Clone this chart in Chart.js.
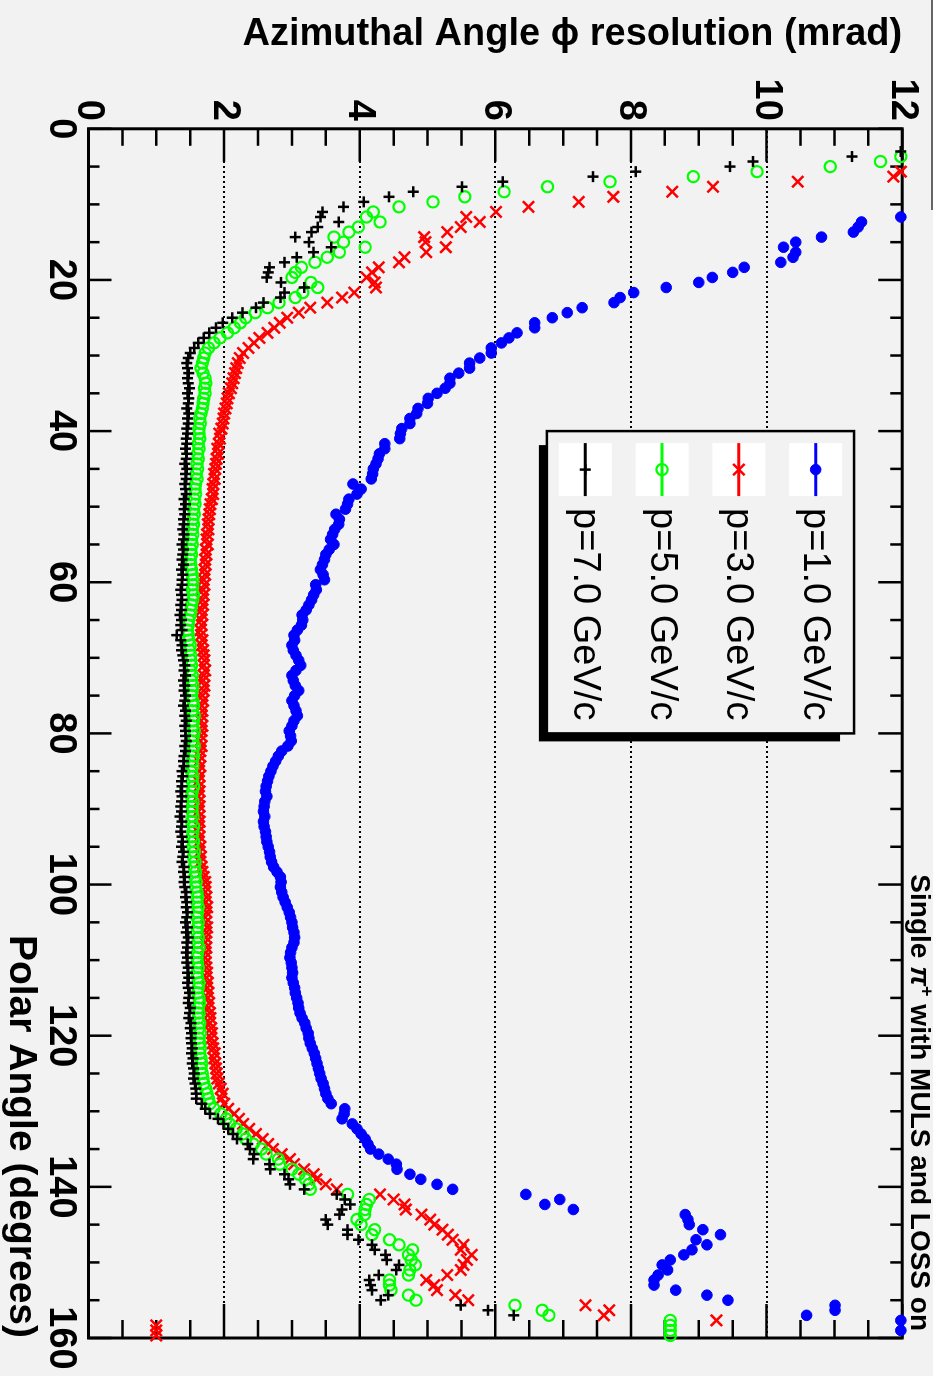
<!DOCTYPE html>
<html lang="en">
<head>
    <meta charset="UTF-8">
    <meta name="viewport" content="width=device-width, initial-scale=1.0">
    <title>Azimuthal Angle resolution vs Polar Angle</title>
    <script src="https://cdn.jsdelivr.net/npm/chart.js"></script>
    <style>
        html, body {
            margin: 0;
            padding: 0;
            background: #f2f2f2;
            overflow: hidden;
        }
        body {
            width: 933px;
            height: 1376px;
            position: relative;
        }
        /* the ROOT canvas is drawn landscape and turned a quarter clockwise */
        .chart-container {
            position: absolute;
            left: 0;
            top: 0;
            width: 1376px;
            height: 933px;
            transform-origin: 0 0;
            transform: translate(933px, 0) rotate(90deg);
        }
    </style>
</head>
<body>
    <div class="chart-container">
        <canvas id="resChart" width="1376" height="933"></canvas>
    </div>

    <script>
        // bin centres of the polar angle histogram (degrees)
        const ANGLES = [
            0.33, 1, 1.67, 2.33, 3, 3.67, 4.33, 5, 5.67, 6.33, 7, 7.67, 8.33, 9, 9.67,
            10.33, 11, 11.67, 12.33, 13, 13.67, 14.33, 15, 15.67, 16.33, 17, 17.67, 18.33, 19, 19.67,
            20.33, 21, 21.67, 22.33, 23, 23.67, 24.33, 25, 25.67, 26.33, 27, 27.67, 28.33, 29, 29.67,
            30.33, 31, 31.67, 32.33, 33, 33.67, 34.33, 35, 35.67, 36.33, 37, 37.67, 38.33, 39, 39.67,
            40.33, 41, 41.67, 42.33, 43, 43.67, 44.33, 45, 45.67, 46.33, 47, 47.67, 48.33, 49, 49.67,
            50.33, 51, 51.67, 52.33, 53, 53.67, 54.33, 55, 55.67, 56.33, 57, 57.67, 58.33, 59, 59.67,
            60.33, 61, 61.67, 62.33, 63, 63.67, 64.33, 65, 65.67, 66.33, 67, 67.67, 68.33, 69, 69.67,
            70.33, 71, 71.67, 72.33, 73, 73.67, 74.33, 75, 75.67, 76.33, 77, 77.67, 78.33, 79, 79.67,
            80.33, 81, 81.67, 82.33, 83, 83.67, 84.33, 85, 85.67, 86.33, 87, 87.67, 88.33, 89, 89.67,
            90.33, 91, 91.67, 92.33, 93, 93.67, 94.33, 95, 95.67, 96.33, 97, 97.67, 98.33, 99, 99.67,
            100.33, 101, 101.67, 102.33, 103, 103.67, 104.33, 105, 105.67, 106.33, 107, 107.67, 108.33, 109, 109.67,
            110.33, 111, 111.67, 112.33, 113, 113.67, 114.33, 115, 115.67, 116.33, 117, 117.67, 118.33, 119, 119.67,
            120.33, 121, 121.67, 122.33, 123, 123.67, 124.33, 125, 125.67, 126.33, 127, 127.67, 128.33, 129, 129.67,
            130.33, 131, 131.67, 132.33, 133, 133.67, 134.33, 135, 135.67, 136.33, 137, 137.67, 138.33, 139, 139.67,
            140.33, 141, 141.67, 142.33, 143, 143.67, 144.33, 145, 145.67, 146.33, 147, 147.67, 148.33, 149, 149.67,
            150.33, 151, 151.67, 152.33, 153, 153.67, 154.33, 155, 155.67, 156.33, 157, 157.67, 158.33, 159, 159.67
        ];

        // resolution in mrad, one value per bin (null = off scale / empty)
        const RES_P1 = [
            null, null, null, null, null, null, null, null, null, null, null, null, null, null, null,
            null, null, 11.98, 11.40, 11.35, 11.28, 10.81, 10.43, 10.25, 10.43, 10.39, 10.21, 9.67, 9.50, 9.20,
            9.00, 8.52, 8.04, 7.84, 7.75, 7.28, 7.06, 6.84, 6.58, 6.58, 6.32, 6.20, 6.09, 5.94, 5.94,
            5.77, 5.62, 5.62, 5.46, 5.33, 5.33, 5.26, 5.14, 5.01, 5.00, 4.86, 4.84, 4.74, 4.74, 4.62,
            4.60, 4.59, 4.37, 4.37, 4.29, 4.27, 4.24, 4.20, 4.19, 4.17, 3.90, 4.02, 3.96, 3.84, 3.82,
            3.79, 3.65, 3.70, 3.69, 3.63, 3.60, 3.57, 3.62, 3.55, 3.50, 3.48, 3.45, 3.42, 3.46, 3.48,
            3.35, 3.36, 3.32, 3.29, 3.25, 3.21, 3.15, 3.16, 3.14, 3.08, 3.03, 3.04, 3.00, 3.02, 3.06,
            3.10, 3.13, 3.06, 3.00, 3.02, 3.05, 3.10, 3.04, 3.00, 3.03, 3.06, 3.08, 3.03, 3.00, 2.96,
            2.98, 2.99, 2.94, 2.85, 2.80, 2.76, 2.72, 2.69, 2.66, 2.64, 2.62, 2.61, 2.63, 2.60, 2.59,
            2.58, 2.60, 2.58, 2.59, 2.61, 2.62, 2.63, 2.65, 2.67, 2.68, 2.70, 2.73, 2.78, 2.83, 2.84,
            2.83, 2.85, 2.87, 2.90, 2.93, 2.96, 2.98, 3.00, 3.01, 3.03, 3.04, 3.03, 3.00, 2.98, 2.97,
            2.99, 3.00, 3.01, 3.00, 3.02, 3.04, 3.05, 3.07, 3.09, 3.10, 3.12, 3.15, 3.19, 3.21, 3.24,
            3.25, 3.27, 3.30, 3.33, 3.35, 3.37, 3.39, 3.41, 3.43, 3.46, 3.48, 3.50, 3.53, 3.58, 3.78,
            3.77, 3.74, 3.89, 3.96, 4.02, 4.08, 4.12, 4.16, 4.28, 4.42, 4.54, 4.55, 4.74, 4.90, 5.14,
            5.37, 6.45, 6.95, 6.73, 7.15, 8.80, 8.84, 8.86, 9.06, 9.32, 8.96, 9.12, 8.90, 8.78, 8.58,
            8.46, 8.54, 8.40, 8.34, 8.34, 8.66, 9.12, 9.43, 11.01, 11.01, 10.59, 11.98, null, 11.98, null
        ];

        const RES_P3 = [
            null, null, null, null, null, null, null, null, 11.98, 11.87, 10.46, 9.21, 8.61, 7.74, 7.23,
            6.49, 6.01, 5.57, 5.77, 5.49, 5.29, 4.95, 4.97, 5.27, 4.98, 4.66, 4.58, 4.28, 4.18, 4.10,
            4.22, 4.24, 3.92, 3.74, 3.52, 3.27, 3.10, 2.93, 2.82, 2.74, 2.64, 2.52, 2.44, 2.36, 2.28,
            2.23, 2.20, 2.18, 2.16, 2.14, 2.12, 2.10, 2.07, 2.05, 2.04, 2.02, 2.00, 1.99, 1.98, 1.96,
            1.93, 1.94, 1.92, 1.90, 1.91, 1.89, 1.88, 1.87, 1.85, 1.86, 1.84, 1.83, 1.84, 1.82, 1.80,
            1.79, 1.78, 1.77, 1.76, 1.77, 1.75, 1.74, 1.76, 1.73, 1.74, 1.72, 1.73, 1.71, 1.72, 1.70,
            1.71, 1.69, 1.70, 1.68, 1.69, 1.67, 1.68, 1.66, 1.67, 1.65, 1.66, 1.68, 1.67, 1.69, 1.70,
            1.71, 1.70, 1.72, 1.70, 1.69, 1.71, 1.70, 1.68, 1.69, 1.67, 1.68, 1.67, 1.66, 1.68, 1.67,
            1.66, 1.65, 1.67, 1.65, 1.64, 1.63, 1.65, 1.63, 1.64, 1.62, 1.63, 1.64, 1.62, 1.63, 1.64,
            1.62, 1.63, 1.64, 1.63, 1.62, 1.64, 1.63, 1.65, 1.64, 1.66, 1.65, 1.67, 1.68, 1.70, 1.72,
            1.73, 1.72, 1.74, 1.73, 1.75, 1.74, 1.72, 1.73, 1.75, 1.74, 1.73, 1.72, 1.74, 1.73, 1.72,
            1.73, 1.74, 1.75, 1.74, 1.76, 1.75, 1.77, 1.76, 1.78, 1.77, 1.79, 1.80, 1.79, 1.81, 1.82,
            1.81, 1.83, 1.84, 1.86, 1.85, 1.87, 1.88, 1.89, 1.90, 1.92, 1.95, 1.98, 1.96, 2.00, 2.06,
            2.15, 2.22, 2.28, 2.37, 2.47, 2.57, 2.65, 2.72, 2.85, 2.97, 3.03, 3.18, 3.32, 3.36, 3.50,
            3.66, 4.30, 4.50, 4.66, 4.68, 4.91, 5.04, 5.10, 5.22, 5.30, 5.37, 5.53, 5.49, 5.65, 5.58,
            5.53, 5.49, 5.29, 4.98, 5.10, 5.14, 5.41, 5.60, 7.33, 7.68, 7.60, 9.26, 1.00, 1.00, 1.00
        ];

        const RES_P5 = [
            null, null, null, null, null, 11.98, 11.68, 10.94, 9.86, 8.92, 7.69, 6.77, 6.13, 5.55, 5.08,
            4.58, 4.20, 4.10, 4.30, 3.98, 3.84, 3.62, 3.76, 4.08, 3.70, 3.52, 3.34, 3.14, 3.05, 3.00,
            3.28, 3.38, 3.16, 3.05, 2.81, 2.64, 2.46, 2.32, 2.24, 2.15, 2.05, 1.94, 1.85, 1.77, 1.72,
            1.70, 1.68, 1.66, 1.69, 1.72, 1.73, 1.71, 1.72, 1.70, 1.69, 1.68, 1.66, 1.64, 1.65, 1.63,
            1.63, 1.64, 1.62, 1.63, 1.61, 1.62, 1.60, 1.61, 1.59, 1.60, 1.58, 1.57, 1.58, 1.56, 1.57,
            1.55, 1.56, 1.54, 1.55, 1.53, 1.54, 1.52, 1.53, 1.51, 1.52, 1.50, 1.51, 1.52, 1.53, 1.54,
            1.54, 1.53, 1.55, 1.54, 1.52, 1.51, 1.50, 1.48, 1.47, 1.46, 1.47, 1.48, 1.50, 1.49, 1.51,
            1.51, 1.52, 1.50, 1.53, 1.52, 1.54, 1.53, 1.52, 1.54, 1.55, 1.53, 1.56, 1.55, 1.54, 1.56,
            1.55, 1.54, 1.56, 1.54, 1.55, 1.53, 1.54, 1.52, 1.54, 1.53, 1.55, 1.53, 1.52, 1.54, 1.53,
            1.53, 1.54, 1.52, 1.55, 1.54, 1.53, 1.55, 1.54, 1.56, 1.55, 1.57, 1.56, 1.58, 1.57, 1.59,
            1.58, 1.60, 1.61, 1.60, 1.62, 1.61, 1.60, 1.62, 1.61, 1.60, 1.62, 1.61, 1.63, 1.61, 1.60,
            1.61, 1.62, 1.60, 1.61, 1.63, 1.62, 1.61, 1.63, 1.64, 1.62, 1.63, 1.62, 1.64, 1.63, 1.65,
            1.63, 1.64, 1.65, 1.64, 1.66, 1.67, 1.66, 1.68, 1.69, 1.70, 1.73, 1.75, 1.77, 1.79, 1.85,
            1.95, 2.03, 2.08, 2.18, 2.28, 2.32, 2.43, 2.55, 2.62, 2.80, 2.82, 3.00, 3.10, 3.20, 3.25,
            3.27, 3.82, 4.14, 4.10, 4.08, 4.07, 3.96, 4.02, 4.22, 4.18, 4.44, 4.58, 4.78, 4.72, 4.76,
            4.82, 4.74, 4.72, 4.44, 4.44, 4.46, 4.72, 4.83, 6.29, 6.69, 6.79, 8.58, 8.58, 8.58, 8.58
        ];

        const RES_P7 = [
            null, null, null, null, 11.98, 11.26, 9.80, 9.46, 8.07, 7.44, 6.11, 5.51, 4.79, 4.43, 4.06,
            3.76, 3.45, 3.42, 3.69, 3.38, 3.29, 3.05, 3.25, 3.58, 3.32, 3.07, 2.89, 2.67, 2.65, 2.63,
            2.84, 3.18, 2.89, 2.83, 2.58, 2.47, 2.27, 2.12, 1.98, 1.88, 1.78, 1.70, 1.62, 1.56, 1.50,
            1.47, 1.45, 1.46, 1.48, 1.46, 1.47, 1.49, 1.46, 1.48, 1.47, 1.45, 1.48, 1.46, 1.47, 1.45,
            1.46, 1.44, 1.45, 1.43, 1.45, 1.44, 1.42, 1.45, 1.43, 1.44, 1.42, 1.43, 1.44, 1.41, 1.43,
            1.41, 1.42, 1.40, 1.41, 1.39, 1.41, 1.40, 1.38, 1.40, 1.39, 1.38, 1.40, 1.37, 1.39, 1.38,
            1.38, 1.36, 1.37, 1.38, 1.36, 1.37, 1.35, 1.37, 1.36, 1.38, 1.30, 1.36, 1.38, 1.37, 1.39,
            1.40, 1.42, 1.41, 1.43, 1.40, 1.42, 1.41, 1.43, 1.42, 1.40, 1.43, 1.42, 1.44, 1.42, 1.43,
            1.43, 1.44, 1.42, 1.43, 1.41, 1.40, 1.41, 1.38, 1.39, 1.37, 1.38, 1.36, 1.38, 1.37, 1.36,
            1.37, 1.35, 1.38, 1.37, 1.36, 1.38, 1.39, 1.37, 1.40, 1.39, 1.38, 1.41, 1.40, 1.42, 1.41,
            1.42, 1.44, 1.43, 1.45, 1.44, 1.46, 1.45, 1.43, 1.46, 1.44, 1.47, 1.45, 1.46, 1.44, 1.46,
            1.45, 1.47, 1.46, 1.48, 1.46, 1.47, 1.49, 1.48, 1.47, 1.50, 1.49, 1.48, 1.51, 1.50, 1.52,
            1.51, 1.52, 1.53, 1.52, 1.54, 1.53, 1.55, 1.56, 1.55, 1.57, 1.58, 1.59, 1.59, 1.67, 1.72,
            1.79, 1.91, 1.99, 2.06, 2.13, 2.19, 2.35, 2.38, 2.44, 2.43, 2.67, 2.68, 2.89, 2.95, 2.97,
            3.18, 3.66, 3.78, 3.86, 3.74, 3.70, 3.50, 3.53, 3.82, 3.82, 3.98, 4.18, 4.22, 4.38, 4.40,
            4.58, 4.54, 4.28, 4.14, 4.16, 4.18, 4.42, 4.31, 5.49, 5.89, 6.27, null, null, null, null
        ];

        const SERIES_LABELS = ['p=1.0 GeV/c', 'p=3.0 GeV/c', 'p=5.0 GeV/c', 'p=7.0 GeV/c'];
        const ANGLE_TICKS = [0, 20, 40, 60, 80, 100, 120, 140, 160];
        const RES_TICKS = [0, 2, 4, 6, 8, 10, 12];

        const FONT = "'Liberation Sans', Arial, Helvetica, sans-serif";
        const BG = '#f2f2f2';

        function toPoints(values) {
            const pts = [];
            values.forEach((v, i) => {
                if (v !== null) pts.push({ x: ANGLES[i], y: v });
            });
            return pts;
        }

        // frame, inward ticks, dotted grid, legend box and the label, ROOT style
        const rootFrame = {
            id: 'rootFrame',
            beforeDraw(chart) {
                const ctx = chart.ctx;
                ctx.save();
                ctx.fillStyle = BG;
                ctx.fillRect(0, 0, chart.width, chart.height);
                ctx.restore();
            },
            beforeDatasetsDraw(chart) {
                const ctx = chart.ctx;
                const xs = chart.scales.x;
                const ys = chart.scales.y;
                const { left, right, top, bottom } = chart.chartArea;
                ctx.save();

                // dotted grid on the resolution axis
                ctx.strokeStyle = '#000';
                ctx.lineWidth = 2;
                ctx.setLineDash([2, 3]);
                RES_TICKS.slice(1, -1).forEach(v => {
                    const y = Math.round(ys.getPixelForValue(v));
                    ctx.beginPath();
                    ctx.moveTo(Math.round(left) + 2, y);
                    ctx.lineTo(right, y);
                    ctx.stroke();
                });
                ctx.setLineDash([]);

                // ticks pointing inwards on all four sides
                ctx.lineWidth = 2.5;
                ctx.beginPath();
                for (let a = 0; a <= 160; a += 5) {
                    const x = xs.getPixelForValue(a);
                    const major = a % 20 === 0;
                    ctx.moveTo(x, bottom);
                    ctx.lineTo(x, bottom - (major ? 23 : 11));
                    ctx.moveTo(x, top);
                    ctx.lineTo(x, top + (major ? 24 : 12));
                }
                for (let v = 0; v <= 12; v += 0.5) {
                    const y = ys.getPixelForValue(v);
                    const major = v % 2 === 0;
                    ctx.moveTo(left, y);
                    ctx.lineTo(left + (major ? 33 : 17), y);
                    ctx.moveTo(right, y);
                    ctx.lineTo(right - (major ? 34 : 18), y);
                }
                ctx.stroke();

                ctx.lineWidth = 3;
                ctx.strokeRect(left, top, right - left, bottom - top);
                ctx.restore();
            },
            afterDraw(chart) {
                const ctx = chart.ctx;
                const xs = chart.scales.x;
                const ys = chart.scales.y;
                ctx.save();

                // legend box spans 40..80 degrees, 6.76..11.29 mrad
                const bx0 = xs.getPixelForValue(40);
                const bx1 = xs.getPixelForValue(80);
                const by0 = ys.getPixelForValue(11.29);
                const by1 = ys.getPixelForValue(6.76);
                ctx.fillStyle = '#000';
                ctx.fillRect(bx0 + 14, by0 + 14, bx1 - bx0 - 6, by1 - by0 - 6);
                ctx.fillStyle = BG;
                ctx.fillRect(bx0, by0, bx1 - bx0, by1 - by0);
                ctx.strokeStyle = '#000';
                ctx.lineWidth = 2.5;
                ctx.strokeRect(bx0, by0, bx1 - bx0, by1 - by0);

                const rowH = (by1 - by0) / chart.data.datasets.length;
                chart.data.datasets.forEach((ds, i) => {
                    const cy = by0 + rowH * (i + 0.5);
                    const sx = bx0 + 12;
                    ctx.fillStyle = '#fff';
                    ctx.fillRect(sx, cy - 26.5, 53, 53);
                    ctx.strokeStyle = ds.pointBorderColor;
                    ctx.lineWidth = 3;
                    ctx.beginPath();
                    ctx.moveTo(sx, cy);
                    ctx.lineTo(sx + 53, cy);
                    ctx.stroke();
                    ctx.fillStyle = ds.pointBackgroundColor;
                    ctx.lineWidth = ds.pointBorderWidth;
                    Chart.helpers.drawPoint(ctx, {
                        pointStyle: ds.pointStyle,
                        radius: ds.pointRadius,
                        rotation: 0,
                        borderWidth: ds.pointBorderWidth
                    }, sx + 26.5, cy);
                    ctx.fillStyle = '#000';
                    ctx.font = '38px ' + FONT;
                    ctx.textAlign = 'left';
                    ctx.textBaseline = 'middle';
                    ctx.fillText(ds.label, bx0 + 77, cy + 1);
                });

                // run label above the frame
                const parts = [
                    { t: 'Single ', f: 'bold 28px ' + FONT, dy: 0 },
                    { t: 'π', f: 'italic bold 28px ' + FONT, dy: 0 },
                    { t: '+', f: 'bold 18px ' + FONT, dy: -10 },
                    { t: ' with MULS and LOSS on', f: 'bold 28px ' + FONT, dy: 0 }
                ];
                let total = 0;
                parts.forEach(p => { ctx.font = p.f; p.w = ctx.measureText(p.t).width; total += p.w; });
                let px = 1331 - total;
                ctx.fillStyle = '#000';
                ctx.textAlign = 'left';
                ctx.textBaseline = 'alphabetic';
                parts.forEach(p => {
                    ctx.font = p.f;
                    ctx.fillText(p.t, px, 22 + p.dy);
                    px += p.w;
                });

                ctx.strokeStyle = '#666';
                ctx.lineWidth = 2;
                ctx.beginPath();
                ctx.moveTo(0, 1);
                ctx.lineTo(210, 1);
                ctx.stroke();
                ctx.restore();
            }
        };

        const ctx = document.getElementById('resChart').getContext('2d');
        const resChart = new Chart(ctx, {
            type: 'scatter',
            data: {
                datasets: [
                    {
                        label: SERIES_LABELS[0],
                        data: toPoints(RES_P1),
                        pointStyle: 'circle',
                        pointRadius: 5.3,
                        pointBorderWidth: 1,
                        pointBackgroundColor: '#0000ff',
                        pointBorderColor: '#0000ff',
                        clip: 12,
                        order: 3
                    },
                    {
                        label: SERIES_LABELS[1],
                        data: toPoints(RES_P3),
                        pointStyle: 'crossRot',
                        pointRadius: 8,
                        pointBorderWidth: 2.5,
                        pointBackgroundColor: '#ff0000',
                        pointBorderColor: '#ff0000',
                        clip: 12,
                        order: 2
                    },
                    {
                        label: SERIES_LABELS[2],
                        data: toPoints(RES_P5),
                        pointStyle: 'circle',
                        pointRadius: 5.6,
                        pointBorderWidth: 2.2,
                        pointBackgroundColor: 'rgba(0,0,0,0)',
                        pointBorderColor: '#00ff00',
                        clip: 12,
                        order: 1
                    },
                    {
                        label: SERIES_LABELS[3],
                        data: toPoints(RES_P7),
                        pointStyle: 'cross',
                        pointRadius: 5.5,
                        pointBorderWidth: 2.5,
                        pointBackgroundColor: '#000000',
                        pointBorderColor: '#000000',
                        clip: 12,
                        order: 0
                    }
                ]
            },
            options: {
                responsive: false,
                animation: false,
                devicePixelRatio: 1,
                events: [],
                layout: {
                    padding: { top: 26, right: 38, left: 0, bottom: 0 }
                },
                plugins: {
                    legend: { display: false },
                    tooltip: { enabled: false }
                },
                scales: {
                    x: {
                        type: 'linear',
                        position: 'bottom',
                        min: 0,
                        max: 160,
                        afterBuildTicks: s => { s.ticks = ANGLE_TICKS.map(v => ({ value: v })); },
                        afterFit: s => { s.height = 88.5; },
                        ticks: {
                            color: '#000',
                            padding: 5,
                            maxRotation: 0,
                            autoSkip: false,
                            font: { family: FONT, size: 38, weight: 'bold' }
                        },
                        grid: { display: false, drawTicks: false },
                        border: { display: false },
                        title: {
                            display: true,
                            text: 'Polar Angle (degrees)',
                            align: 'end',
                            color: '#000',
                            font: { family: FONT, size: 39, weight: 'bold', lineHeight: 1 },
                            padding: { top: 0, bottom: 1 }
                        }
                    },
                    y: {
                        type: 'linear',
                        position: 'left',
                        min: 0,
                        max: 12,
                        afterBuildTicks: s => { s.ticks = RES_TICKS.map(v => ({ value: v })); },
                        afterFit: s => { s.width = 128.8; },
                        ticks: {
                            color: '#000',
                            padding: 8,
                            font: { family: FONT, size: 38, weight: 'bold' }
                        },
                        grid: { display: false, drawTicks: false },
                        border: { display: false },
                        title: {
                            display: true,
                            text: 'Azimuthal Angle ϕ resolution (mrad)',
                            align: 'end',
                            color: '#000',
                            font: { family: FONT, size: 38, weight: 'bold', lineHeight: 1 },
                            padding: { top: 15.5, bottom: 0 }
                        }
                    }
                }
            },
            plugins: [rootFrame]
        });
    </script>
</body>
</html>
